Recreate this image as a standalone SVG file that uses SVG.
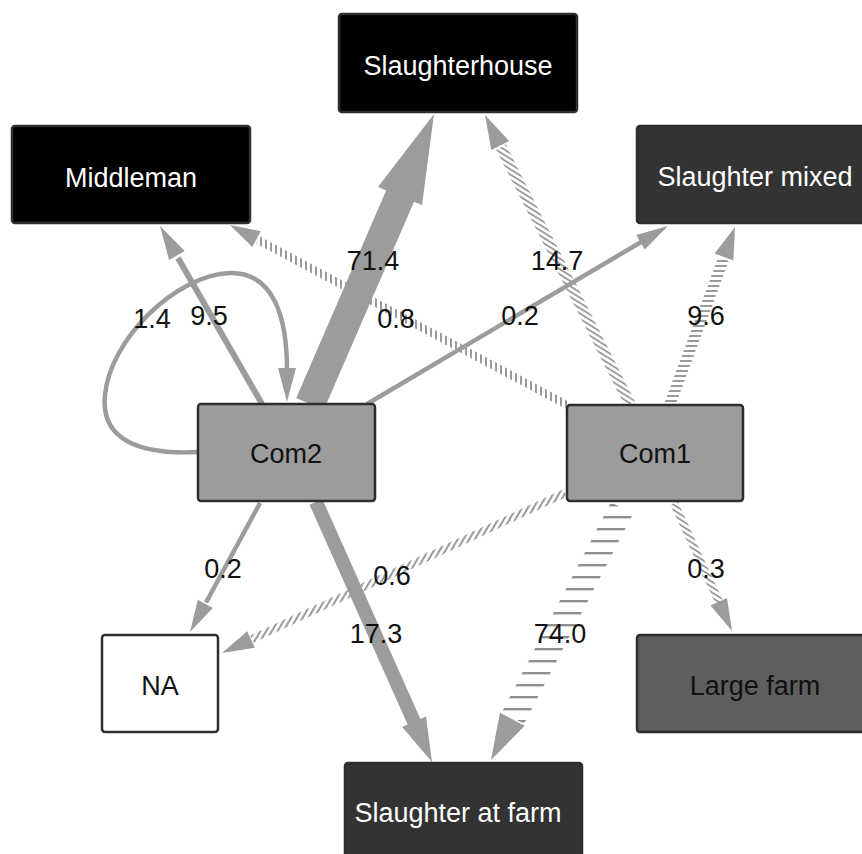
<svg xmlns="http://www.w3.org/2000/svg" width="862" height="854" viewBox="0 0 862 854">
<style>
.node rect{stroke:#2e2e2e;stroke-width:2.5}
.nl{font-family:"Liberation Sans",Arial,sans-serif;font-size:27px;text-anchor:middle}
.el{font-family:"Liberation Sans",Arial,sans-serif;font-size:27px;text-anchor:middle;fill:#111}
.solid{stroke:#9c9c9c;fill:none}
.head{fill:#9c9c9c}
.w{fill:#ffffff}
.k{fill:#111111}
</style>
<defs>
<pattern id="pH12" patternUnits="userSpaceOnUse" width="20" height="12"><rect width="20" height="2.4" fill="#8f8f8f"/></pattern>
<pattern id="pH5" patternUnits="userSpaceOnUse" width="20" height="5"><rect width="20" height="2" fill="#9a9a9a"/></pattern>
<pattern id="pV5" patternUnits="userSpaceOnUse" width="5" height="20"><rect width="2" height="20" fill="#9a9a9a"/></pattern>
<pattern id="pBk" patternUnits="userSpaceOnUse" width="4.5" height="20" patternTransform="rotate(-58)"><rect width="1.8" height="20" fill="#9a9a9a"/></pattern>
<pattern id="pFw" patternUnits="userSpaceOnUse" width="5" height="20" patternTransform="rotate(30)"><rect width="2" height="20" fill="#9a9a9a"/></pattern>
</defs>
<rect width="862" height="854" fill="#ffffff"/>
<g id="connectors">
  <g id="e-com1-middleman"><line x1="567" y1="405" x2="258" y2="240" stroke="url(#pV5)" stroke-width="8"/><polygon class="head" points="230,225 260.7,231.2 252.3,247"/></g>
  <g id="e-com1-slaughterhouse"><line x1="630" y1="404" x2="501" y2="147" stroke="url(#pBk)" stroke-width="11"/><polygon class="head" points="485,115 509.1,140.9 491.3,149.9"/></g>
  <g id="e-com1-mixed"><line x1="670" y1="404" x2="723.5" y2="259" stroke="url(#pH5)" stroke-width="11"/><polygon class="head" points="735,227 733.4,260.5 714.6,253.5"/></g>
  <g id="e-com1-na"><line x1="565" y1="493" x2="252" y2="639" stroke="url(#pFw)" stroke-width="8"/><polygon class="head" points="222,653 247.2,631.3 254.8,647.7"/></g>
  <g id="e-com1-safarm"><line x1="622" y1="508" x2="513" y2="718" stroke="url(#pH12)" stroke-width="25"/><polygon class="head" points="491,760 499.9,712.7 524.7,725.7"/></g>
  <g id="e-com1-large"><line x1="674" y1="503" x2="719.5" y2="603" stroke="url(#pBk)" stroke-width="8"/><polygon class="head" points="732,631 710.6,605.5 727,598.1"/></g>
  <g id="e-com2-loop"><path class="solid" stroke-width="4.5" d="M198,452 C140,455 100,440 105,395 C110,340 175,275 230,273 C275,272 287,320 287,370"/><polygon class="head" points="278,368 296,368 287,402"/></g>
  <g id="e-com2-middleman"><line class="solid" x1="262" y1="404" x2="178" y2="258" stroke-width="6"/><polygon class="head" points="160,226 184.7,251 169.1,260"/></g>
  <g id="e-com2-slaughterhouse"><line class="solid" x1="310" y1="404" x2="401" y2="194" stroke-width="30"/><polygon class="head" points="434,114 422,205 378,187"/></g>
  <g id="e-com2-mixed"><line class="solid" x1="367" y1="404" x2="642" y2="241.5" stroke-width="4.5"/><polygon class="head" points="668,226 644.8,249.6 636.2,235"/></g>
  <g id="e-com2-na"><line class="solid" x1="260" y1="503" x2="206" y2="602.5" stroke-width="4.5"/><polygon class="head" points="190,632 197.8,599.8 212.8,608"/></g>
  <g id="e-com2-safarm"><line class="solid" x1="316" y1="502" x2="415" y2="724" stroke-width="14"/><polygon class="head" points="432,762 402.2,727.1 426,716.5"/></g>
</g>
<g id="n-slaughterhouse" class="node"><rect x="339" y="14" width="238" height="98" rx="3" fill="#000000"/><text class="nl w" x="458" y="75">Slaughterhouse</text></g>
<g id="n-middleman" class="node"><rect x="12" y="126" width="238" height="97" rx="3" fill="#000000"/><text class="nl w" x="131" y="187">Middleman</text></g>
<g id="n-mixed" class="node"><rect x="637" y="126" width="240" height="97" rx="3" fill="#333333"/><text class="nl w" x="755" y="186">Slaughter mixed</text></g>
<g id="n-com2" class="node"><rect x="198" y="404" width="177" height="97" rx="3" fill="#9c9c9c"/><text class="nl k" x="286" y="463">Com2</text></g>
<g id="n-com1" class="node"><rect x="567" y="405" width="176" height="96" rx="3" fill="#9c9c9c"/><text class="nl k" x="655" y="463">Com1</text></g>
<g id="n-na" class="node"><rect x="102" y="635" width="116" height="97" rx="3" fill="#ffffff"/><text class="nl k" x="160" y="695">NA</text></g>
<g id="n-large" class="node"><rect x="637" y="635" width="240" height="97" rx="3" fill="#5e5e5e"/><text class="nl k" x="755" y="695">Large farm</text></g>
<g id="n-safarm" class="node"><rect x="345" y="763" width="237" height="100" rx="3" fill="#333333"/><text class="nl w" x="458" y="822">Slaughter at farm</text></g>
<g id="labels">
<text class="el" x="373" y="270">71.4</text>
<text class="el" x="396" y="328">0.8</text>
<text class="el" x="152" y="328">1.4</text>
<text class="el" x="209" y="325">9.5</text>
<text class="el" x="557" y="270">14.7</text>
<text class="el" x="520" y="325">0.2</text>
<text class="el" x="706" y="325">9.6</text>
<text class="el" x="223" y="578">0.2</text>
<text class="el" x="392" y="585">0.6</text>
<text class="el" x="376" y="643">17.3</text>
<text class="el" x="560" y="643">74.0</text>
<text class="el" x="706" y="578">0.3</text>
</g>
</svg>
